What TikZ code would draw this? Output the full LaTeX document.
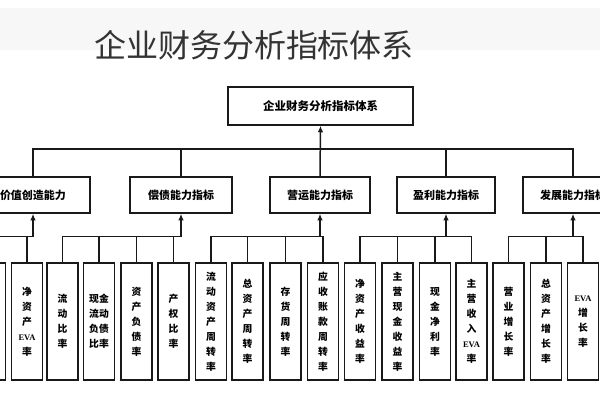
\documentclass[tikz,border=0pt]{standalone}
\usepackage{fontspec}
\newfontfamily\cjk{Noto Sans CJK SC}
\newfontfamily\latinb{Liberation Serif}
\usetikzlibrary{arrows.meta}
\newcommand\EVAt{{\latinb\bfseries\fontsize{8.5}{15}\selectfont EVA}}
\begin{document}
\begin{tikzpicture}[x=1pt,y=-1pt,
  boxline/.style={draw=black!90, line width=1.5pt},
  topbox/.style={boxline, minimum width=185pt, minimum height=38pt, inner sep=0pt, font=\cjk\bfseries\fontsize{11.5}{13}\selectfont},
  lvltwo/.style={boxline, minimum width=100pt, minimum height=36pt, inner sep=0pt, font=\cjk\bfseries\fontsize{11}{13}\selectfont},
  lvlthree/.style={boxline, minimum width=31pt, minimum height=117pt, inner sep=0pt, align=center, font=\cjk\bfseries\fontsize{9.8}{15}\selectfont},
  conn/.style={draw=black!90, line width=1.5pt},
  arr/.style={conn, -{Latex[length=6.5pt,width=5.5pt]}}
]
\useasboundingbox (0,0) rectangle (600,400);
\clip (0,0) rectangle (600,400);
\fill[white] (0,0) rectangle (600,400);
\fill[black!3] (0,8) rectangle (600,50);
\node[font=\cjk\fontsize{32}{36}\selectfont, text=black!80] (title) at (254,45) {企业财务分析指标体系};

% top
\node[topbox] (top) at (320.5,106) {企业财务分析指标体系};

% level two
\node[lvltwo, minimum width=114pt] (L1) at (33,195) {价值创造能力};
\node[lvltwo, minimum width=102pt] (L2) at (181,195) {偿债能力指标};
\node[lvltwo] (L3) at (320,195) {营运能力指标};
\node[lvltwo, minimum width=98pt] (L4) at (446,195) {盈利能力指标};
\node[lvltwo] (L5) at (573,195) {发展能力指标};

% level three
\node[lvlthree] (a) at (-10,321.5) {};
\node[lvlthree] (b) at (27,321.5) {净\\资\\产\\\EVAt\\率};
\node[lvlthree] (c) at (62.5,321.5) {流\\动\\比\\率};
\node[lvlthree] (d) at (99,321.5) {现金\\流动\\负债\\比率};
\node[lvlthree] (e) at (136.5,321.5) {资\\产\\负\\债\\率};
\node[lvlthree] (f) at (173.5,321.5) {产\\权\\比\\率};
\node[lvlthree] (g) at (211,321.5) {流\\动\\资\\产\\周\\转\\率};
\node[lvlthree] (h) at (247.5,321.5) {总\\资\\产\\周\\转\\率};
\node[lvlthree] (i) at (285.5,321.5) {存\\货\\周\\转\\率};
\node[lvlthree] (j) at (323,321.5) {应\\收\\账\\款\\周\\转\\率};
\node[lvlthree] (k) at (360,321.5) {净\\资\\产\\收\\益\\率};
\node[lvlthree] (l) at (397.5,321.5) {主\\营\\现\\金\\收\\益\\率};
\node[lvlthree] (m) at (435,321.5) {现\\金\\净\\利\\率};
\node[lvlthree] (n) at (471.5,321.5) {主\\营\\收\\入\\\EVAt\\率};
\node[lvlthree] (o) at (508.5,321.5) {营\\业\\增\\长\\率};
\node[lvlthree] (p) at (546,321.5) {总\\资\\产\\增\\长\\率};
\node[lvlthree] (q) at (583,321.5) {\EVAt\\增\\长\\率};

\coordinate (busA) at (0,149);
\coordinate (busB) at (0,236.5);

% level one connectors
\draw[conn] (L1.north) |- (busA -| L5.north) -- (L5.north);
\draw[conn] (L2.north) -- (L2.north |- busA);
\draw[conn] (L4.north) -- (L4.north |- busA);
\draw[arr] (L3.north) -- (top.south);

% group 1
\draw[conn] (a.north) |- (busB -| L1.south);
\draw[conn] (b.north) -- (b.north |- busB);
\draw[arr] (L1.south |- busB) -- (L1.south);
% group 2
\draw[conn] (c.north) |- (busB -| L2.south);
\foreach \x in {d,e,f} \draw[conn] (\x.north) -- (\x.north |- busB);
\draw[arr] (L2.south |- busB) -- (L2.south);
% group 3
\draw[conn] (g.north) |- (busB -| j.north) -- (j.north);
\foreach \x in {h,i} \draw[conn] (\x.north) -- (\x.north |- busB);
\draw[arr] (L3.south |- busB) -- (L3.south);
% group 4
\draw[conn] (k.north) |- (busB -| n.north) -- (n.north);
\foreach \x in {l,m} \draw[conn] (\x.north) -- (\x.north |- busB);
\draw[arr] (L4.south |- busB) -- (L4.south);
% group 5
\draw[conn] (o.north) |- (busB -| q.north) -- (q.north);
\draw[conn] (p.north) -- (p.north |- busB);
\draw[arr] (L5.south |- busB) -- (L5.south);
\end{tikzpicture}
\end{document}
